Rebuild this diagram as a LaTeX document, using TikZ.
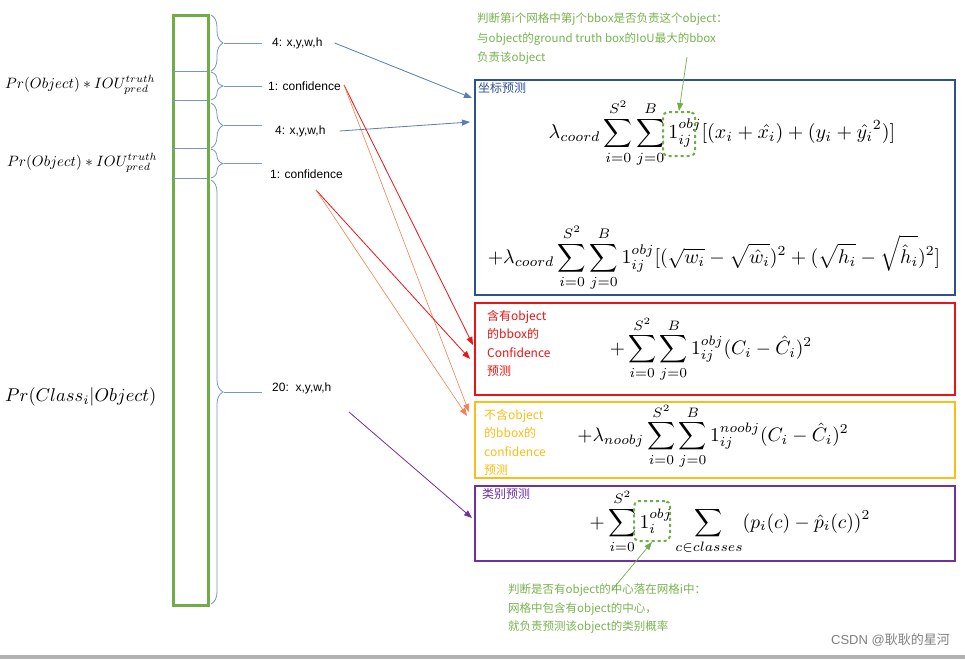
\documentclass[tikz,border=0pt]{standalone}
\usepackage{amsmath}
\usepackage{fontspec}
\setsansfont{Liberation Sans}
\newfontfamily\cjk{Noto Sans CJK SC}
\usetikzlibrary{decorations.pathreplacing,arrows.meta}
\definecolor{colgreen}{RGB}{112,173,71}
\definecolor{txtgreen}{RGB}{120,180,80}
\definecolor{boxblue}{RGB}{47,82,143}
\definecolor{arrblue}{RGB}{90,125,175}
\definecolor{boxred}{RGB}{235,20,20}
\definecolor{boxyellow}{RGB}{250,190,20}
\definecolor{boxpurple}{RGB}{112,48,160}
\definecolor{braceblue}{RGB}{120,150,200}
\definecolor{orangearr}{RGB}{240,130,80}
\begin{document}
\begin{tikzpicture}[x=1pt,y=-1pt,
  brc/.style={draw=braceblue,line width=0.8pt,decorate,decoration={brace,amplitude=12pt,aspect=0.5}},
  lbl/.style={font=\sffamily\fontsize{12}{14}\selectfont,inner sep=0pt,anchor=west},
  cjkt/.style={font=\cjk\fontsize{12}{18.5}\selectfont,inner sep=0pt,anchor=north west,align=left},
  lossbox/.style={line width=2.2pt},
  fml/.style={inner sep=0pt},
  arr/.style={-{Triangle[length=8pt,width=6pt]},line width=0.8pt},
  dbox/.style={draw=colgreen,dashed,line width=2pt,rounded corners=5pt}]
\useasboundingbox (0,0) rectangle (965,659);
\fill[white] (0,0) rectangle (965,659);
% column
\node[draw=colgreen,line width=3pt,minimum width=35pt,minimum height=590pt,anchor=north west,inner sep=0pt] (col) at (172,14) {};
\foreach \yy/\nm in {71/d1,100/d2,148/d3,178/d4}
  \draw[braceblue,line width=0.8pt] (172,\yy) coordinate (\nm l) -- (207,\yy) coordinate (\nm r);
% braces
\draw[brc] (211,15) -- (211,71);
\draw[brc] (211,72) -- (211,100);
\draw[brc] (211,103) -- (211,148);
\draw[brc] (211,149) -- (211,178);
\draw[brc] (211,180) -- (211,604);
\foreach \yy in {43,86,125.5,163.5,392} \draw[braceblue,line width=0.8pt] (224,\yy) -- (262,\yy);
\node[lbl] (l1) at (272,43) {4: x,y,w,h};
\node[lbl] (l2) at (268,86) {1: confidence};
\node[lbl] (l3) at (275,131) {4: x,y,w,h};
\node[lbl] (l4) at (270,174) {1: confidence};
\node[lbl] (l5) at (272,388) {20:\ \ x,y,w,h};
% left labels
\node[fml,anchor=west] (p1) at (5,85) {\scalebox{1.5}{$Pr(Object)*IOU^{truth}_{pred}$}};
\node[fml,anchor=west] (p2) at (7,163) {\scalebox{1.5}{$Pr(Object)*IOU^{truth}_{pred}$}};
\node[fml,anchor=west] (p3) at (5,397) {\scalebox{1.85}{$Pr(Class_i|Object)$}};
% boxes
\draw[boxblue,lossbox] (475,80) rectangle (955,295);
\draw[boxred,lossbox] (475,303) rectangle (955,395);
\draw[boxyellow,lossbox] (475,402) rectangle (955,478);
\draw[boxpurple,lossbox] (475,486) rectangle (955,561);
\coordinate (bb1) at (472,98); \coordinate (bb2) at (470,122);
\coordinate (rb1) at (473,345); \coordinate (rb2) at (470,359);
\coordinate (yb1) at (469,412); \coordinate (yb2) at (467,416);
\coordinate (pb) at (472,518);
\node[cjkt,text=boxblue] (t1) at (478,82) {坐标预测};
\node[cjkt,text=boxred] (t2) at (487,310) {含有object\\的bbox的\\Confidence\\预测};
\node[cjkt,text=boxyellow] (t3) at (484,409) {不含object\\的bbox的\\confidence\\预测};
\node[cjkt,text=boxpurple] (t4) at (482,488) {类别预测};
% formulas
\node[fml] (f1) at (722,133) {\scalebox{2.0}{$\displaystyle \lambda_{coord}\sum_{i=0}^{S^2}\sum_{j=0}^{B}1_{ij}^{obj}[(x_i+\hat{x_i})+(y_i+\hat{y_i}^2)]$}};
\node[fml] (f2) at (714,258) {\scalebox{1.98}{$\displaystyle +\lambda_{coord}\sum_{i=0}^{S^2}\sum_{j=0}^{B}1_{ij}^{obj}[(\sqrt{w_i}-\sqrt{\hat{w}_i})^2+(\sqrt{h_i}-\sqrt{\hat{h}_i})^2]$}};
\node[fml] (f3) at (711,349) {\scalebox{1.95}{$\displaystyle +\sum_{i=0}^{S^2}\sum_{j=0}^{B}1_{ij}^{obj}(C_i-\hat{C}_i)^2$}};
\node[fml] (f4) at (713,436) {\scalebox{1.95}{$\displaystyle +\lambda_{noobj}\sum_{i=0}^{S^2}\sum_{j=0}^{B}1_{ij}^{noobj}(C_i-\hat{C}_i)^2$}};
\node[fml] (f5) at (730,522) {\scalebox{1.95}{$\displaystyle +\sum_{i=0}^{S^2}1_{i}^{obj}\sum_{c\in classes}(p_i(c)-\hat{p}_i(c))^2$}};
% dashed highlights
\node[dbox,minimum width=32pt,minimum height=44pt] (h1) at (679,134) {};
\node[dbox,minimum width=36pt,minimum height=40pt] (h2) at (652,521) {};
% green notes
\node[cjkt,text=txtgreen,font=\cjk\fontsize{11.5}{19.5}\selectfont] (n1) at (477,13) {判断第i个网格中第j个bbox是否负责这个object：\\与object的ground truth box的IoU最大的bbox\\负责该object};
\node[cjkt,text=txtgreen,font=\cjk\fontsize{11.5}{18.5}\selectfont] (n2) at (508,584) {判断是否有object的中心落在网格i中：\\网格中包含有object的中心，\\就负责预测该object的类别概率};
\coordinate (n1a) at (687,57);
\coordinate (n2a) at (612,590);
\draw[arr,colgreen,line width=0.7pt] (n1a) -- (h1.north);
\draw[arr,colgreen,line width=0.7pt] (n2a) -- (h2.south);
% arrows
\draw[arr,arrblue] (l1.east)++(12,0) -- (bb1);
\draw[arr,arrblue] (l3.east)++(14,0) -- (bb2);
\coordinate (c1) at (344,85);
\coordinate (c2) at (316,190);
\draw[arr,boxred] (c1) -- (rb1);
\draw[arr,orangearr,line width=0.6pt] (c1) -- (yb1);
\draw[arr,boxred] (c2) -- (rb2);
\draw[arr,orangearr,line width=0.6pt] (c2) -- (yb2);
\draw[arr,boxpurple] (349,412) -- (pb);
\node[font=\fontsize{13}{14}\selectfont\cjk,text=gray,anchor=east,inner sep=0pt] (wm) at (950,640) {\sffamily CSDN @\cjk 耿耿的星河};
\fill[gray!60] (0,655) rectangle (965,659);
\end{tikzpicture}
\end{document}
